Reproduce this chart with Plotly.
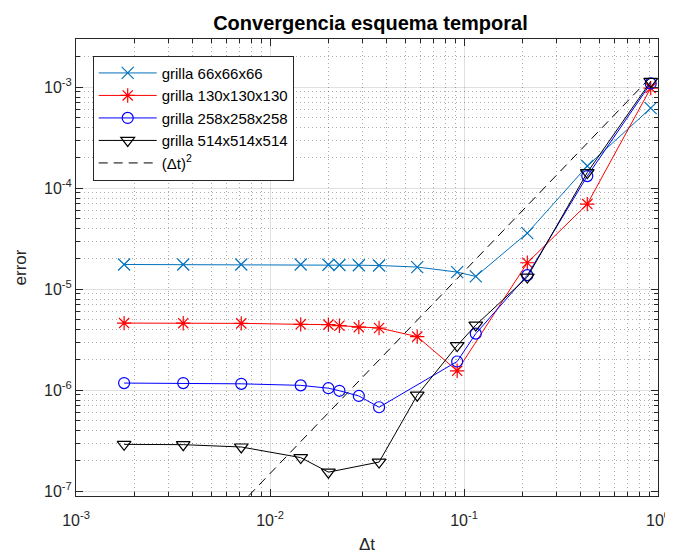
import numpy as np
import plotly.graph_objects as go

# ---- data ----
dt66 = [0.00177, 0.00357, 0.00711, 0.0144, 0.0200, 0.0228, 0.0287, 0.0365, 0.0574, 0.0922, 0.115, 0.212, 0.432, 0.917]
err66 = [1.76e-5, 1.76e-5, 1.76e-5, 1.76e-5, 1.75e-5, 1.74e-5, 1.73e-5, 1.72e-5, 1.66e-5, 1.48e-5, 1.34e-5, 3.6e-5, 1.66e-4, 6.2e-4]

dt130 = [0.00177, 0.00357, 0.00711, 0.0144, 0.0200, 0.0228, 0.0287, 0.0365, 0.0574, 0.0922, 0.212, 0.432, 0.917]
err130 = [4.63e-6, 4.62e-6, 4.6e-6, 4.5e-6, 4.47e-6, 4.36e-6, 4.22e-6, 4.14e-6, 3.40e-6, 1.56e-6, 1.83e-5, 6.97e-5, 9.8e-4]

dt258 = [0.00177, 0.00357, 0.00711, 0.0144, 0.0200, 0.0228, 0.0287, 0.0365, 0.0922, 0.115, 0.212, 0.432, 0.917]
err258 = [1.18e-6, 1.18e-6, 1.16e-6, 1.12e-6, 1.05e-6, 9.9e-7, 8.8e-7, 6.8e-7, 1.93e-6, 3.64e-6, 1.38e-5, 1.32e-4, 1.09e-3]

dt514 = [0.00177, 0.00357, 0.00711, 0.0144, 0.0200, 0.0365, 0.0574, 0.0922, 0.115, 0.212, 0.432, 0.917]
err514 = [2.92e-7, 2.90e-7, 2.75e-7, 2.16e-7, 1.55e-7, 1.95e-7, 8.95e-7, 2.77e-6, 4.42e-6, 1.32e-5, 1.43e-4, 1.14e-3]

ref_dt = [0.00177, 0.917]
ref_err = [4.7e-9, 1.26e-3]

x_tick_exps = [-3, -2, -1, 0]
y_tick_exps = [-7, -6, -5, -4, -3]

FONT = "Liberation Sans, Arial, sans-serif"

# page body has an 8px margin: figure is sized to fit the 673x556 window
W, H = 665, 548

fig = go.Figure()
fig.add_trace(go.Scatter(x=dt66, y=err66, mode="lines+markers", name="grilla 66x66x66",
                         line=dict(color="#0072BD", width=1),
                         marker=dict(symbol="x-thin-open", size=12, color="#0072BD",
                                     line=dict(color="#0072BD", width=1.2))))
fig.add_trace(go.Scatter(x=dt130, y=err130, mode="lines+markers", name="grilla 130x130x130",
                         line=dict(color="#FF0000", width=1),
                         marker=dict(symbol="asterisk-open", size=12, color="#FF0000",
                                     line=dict(color="#FF0000", width=1.2))))
fig.add_trace(go.Scatter(x=dt258, y=err258, mode="lines+markers", name="grilla 258x258x258",
                         line=dict(color="#0000FF", width=1),
                         marker=dict(symbol="circle-open", size=11, color="#0000FF",
                                     line=dict(color="#0000FF", width=1.2))))
fig.add_trace(go.Scatter(x=dt514, y=err514, mode="lines+markers", name="grilla 514x514x514",
                         line=dict(color="#000000", width=1),
                         marker=dict(symbol="triangle-down-open", size=12, color="#000000",
                                     line=dict(color="#000000", width=1.2))))
fig.add_trace(go.Scatter(x=ref_dt, y=ref_err, mode="lines", name="(\u0394t)<sup>2</sup>",
                         line=dict(color="#000000", width=1, dash="9px,6px")))

def minor_vals(exps):
    vals = []
    for e in exps[:-1]:
        for k in range(2, 10):
            vals.append(k * 10.0 ** e)
    return vals

ax_common = dict(
    type="log", showline=True, linecolor="#262626", linewidth=1, mirror="allticks",
    ticks="inside", ticklen=7, tickcolor="#262626", tickwidth=1,
    showgrid=True, gridcolor="rgba(0,0,0,0.12)", gridwidth=1,
    zeroline=False, automargin=False,
    tickfont=dict(family=FONT, size=16, color="#262626"),
)

minor_common = dict(ticks="inside", ticklen=4, tickcolor="#262626", showgrid=True,
                    gridcolor="rgba(0,0,0,0.32)", griddash="1px,3px", gridwidth=1)

fig.update_xaxes(
    **ax_common,
    range=[-3, 0],
    tickmode="array",
    tickvals=[10.0 ** e for e in x_tick_exps],
    ticktext=["10<sup>%d</sup>" % e for e in x_tick_exps],
    ticklabelstandoff=10,
    minor=dict(tickmode="array", tickvals=minor_vals(x_tick_exps), **minor_common),
    title=dict(text="\u0394t", font=dict(family=FONT, size=17, color="#262626"), standoff=9),
)
fig.update_yaxes(
    **ax_common,
    range=[np.log10(9e-8), np.log10(3e-3)],
    tickmode="array",
    tickvals=[10.0 ** e for e in y_tick_exps],
    ticktext=["10<sup>%d</sup>" % e for e in y_tick_exps],
    minor=dict(tickmode="array", tickvals=minor_vals(y_tick_exps + [-2]), **minor_common),
    title=dict(text="error", font=dict(family=FONT, size=17, color="#262626"), standoff=13),
)

fig.update_layout(
    width=W, height=H,
    margin=dict(l=68, r=15, t=31, b=60),
    paper_bgcolor="white", plot_bgcolor="white",
    title=dict(text="<b>Convergencia esquema temporal</b>", x=0.545, xanchor="center",
               y=1 - 15 / H, yanchor="middle", yref="container",
               font=dict(family=FONT, size=20, color="#000000")),
    legend=dict(x=0.0287, y=0.9635, xanchor="left", yanchor="top",
                bgcolor="white", bordercolor="#262626", borderwidth=1,
                font=dict(family=FONT, size=15, color="#000000"),
                itemwidth=58, tracegroupgap=0),
    showlegend=True,
)

fig.write_html("out.html")
